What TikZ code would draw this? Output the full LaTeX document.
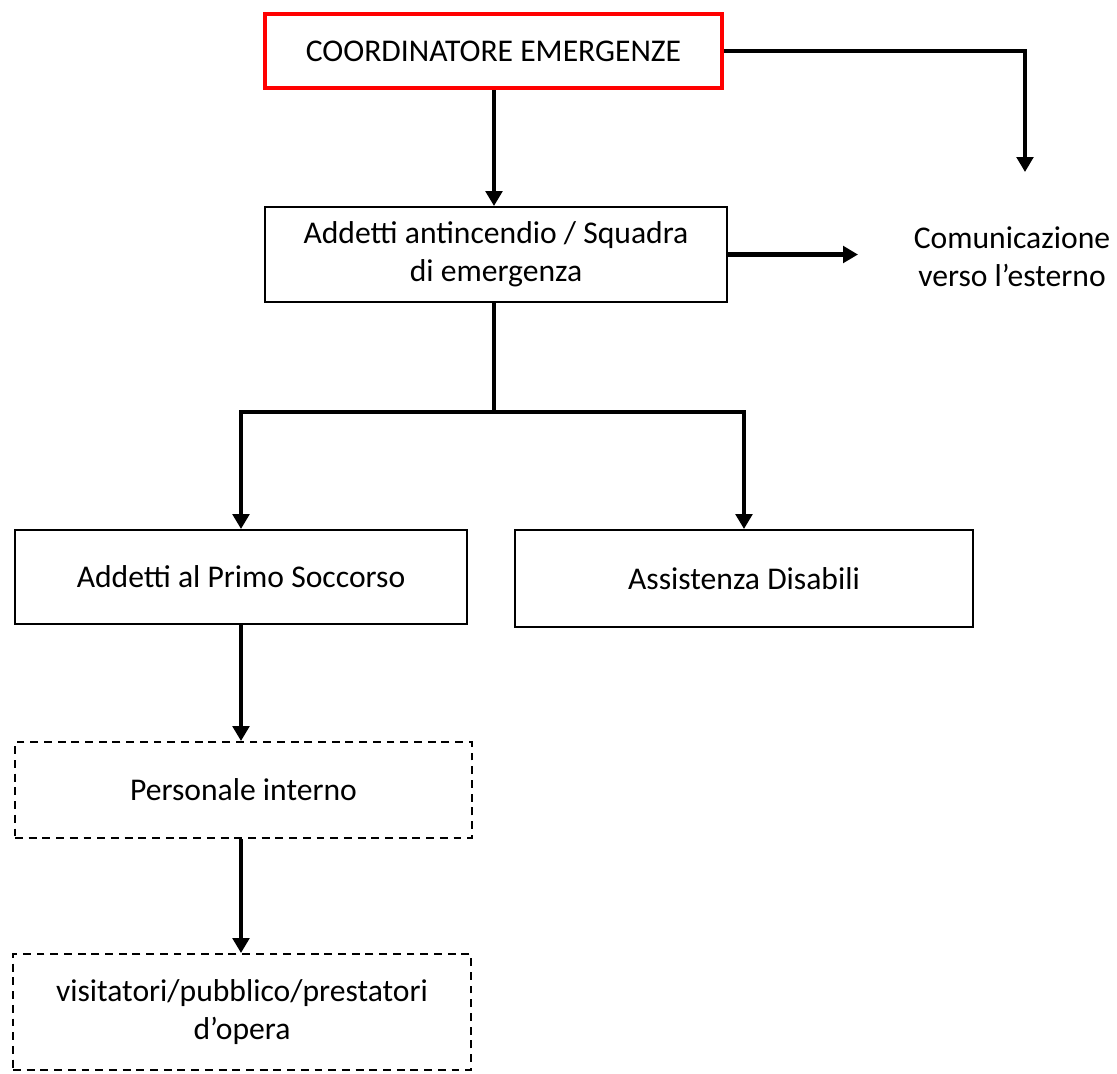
\documentclass[tikz,border=0pt]{standalone}
\usepackage{fontspec}
\setmainfont{Carlito}
\usetikzlibrary{arrows.meta}
\begin{document}
\begin{tikzpicture}[x=0.02cm, y=-0.02cm,
        box/.style={rectangle, draw, line width=1.1pt, align=center, font=\fontsize{18}{21.5}\selectfont},
        tratteggio/.style={dash pattern=on 4.5pt off 3.3pt},
        freccia/.style={line width=2.3pt, -{Triangle[length=0.3cm, width=0.33cm]}}]
        \useasboundingbox (0,0) rectangle (1117,1073);
        \draw (493.5, 51) node[box, draw=red, line width=2.3pt, minimum width=9.14cm, minimum height=1.48cm](coord){COORDINATORE EMERGENZE}
       (496, 254.5) node[box, minimum width=9.24cm, minimum height=1.9cm](squadra){Addetti antincendio / Squadra\\di emergenza}
       (241, 577) node[box, minimum width=9.04cm, minimum height=1.88cm](primo){Addetti al Primo Soccorso}
       (744, 578.5) node[box, minimum width=9.16cm, minimum height=1.94cm](disabili){Assistenza Disabili}
       (243.5, 790) node[box, tratteggio, minimum width=9.14cm, minimum height=1.92cm](personale){Personale interno}
       (242, 1012) node[box, tratteggio, minimum width=9.16cm, minimum height=2.32cm](visitatori){visitatori/pubblico/prestatori\\d'opera}
       (1012, 257) node[align=center, font=\fontsize{18}{21.5}\selectfont](esterno){Comunicazione\\verso l'esterno};

       \coordinate (ext1) at (1025, 172);
       \coordinate (ext2) at (858, 254.5);
       \coordinate (split) at (494, 412);

       \draw[freccia] (coord.east) -| (ext1);
       \draw[freccia] (coord.south -| split) -- (squadra.north -| split);
       \draw[freccia] (squadra.east) -- (ext2);
       \draw[line width=2.3pt] (squadra.south -| split) -- (split);
       \draw[freccia] (split) -| (primo.north);
       \draw[freccia] (split) -| (disabili.north);
       \draw[freccia] (primo.south) -- (personale.north -| primo.south);
       \draw[freccia] (personale.south -| primo.south) -- (visitatori.north -| primo.south);
    \end{tikzpicture}
\end{document}
